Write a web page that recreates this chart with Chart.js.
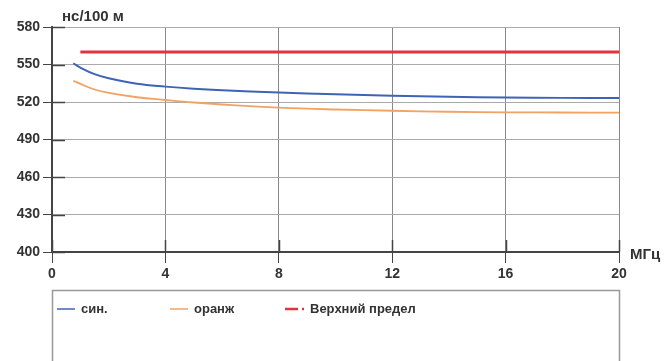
<!DOCTYPE html>
<html>
<head>
<meta charset="utf-8">
<script src="https://cdn.jsdelivr.net/npm/chart.js@4.4.0/dist/chart.umd.min.js"></script>
<style>
  html, body { margin: 0; padding: 0; background: #fff; overflow: hidden; }
  #wrap { width: 672px; height: 361px; position: relative; }
  canvas { display: block; }
</style>
</head>
<body>
<div id="wrap"><canvas id="delay" width="672" height="361"></canvas></div>
<script>
const freq = [0.75, 1, 1.5, 2, 3, 4, 5, 6, 8, 10, 12, 14, 16, 18, 20];
const blueVals = [551, 547.5, 542.3, 539, 534.6, 532.3, 530.6, 529.4, 527.6, 526.2, 525, 524.2, 523.6, 523.3, 523.1];
const orangeVals = [537, 534.5, 530, 527.3, 523.8, 521.6, 519.6, 518, 515.5, 514, 513, 512.2, 511.7, 511.6, 511.5];
const limitFreq = [1, 20];
const limitVals = [560, 560];
const seriesNames = ["син.", "оранж", "Верхний предел"];
const xTicks = [0, 4, 8, 12, 16, 20];
const yTicks = [400, 430, 460, 490, 520, 550, 580];

const font = { family: "'Liberation Sans', Arial, sans-serif", size: 14, weight: "bold" };

function pts(xs, ys) {
  return xs.map((x, i) => ({ x: x, y: ys[i] }));
}

// axis captions, inner tick stubs and the legend frame
const decor = {
  id: "decor",
  afterDraw(chart) {
    const c = chart.ctx;
    const a = chart.chartArea;
    const xs = chart.scales.x, ys = chart.scales.y;
    c.save();
    c.strokeStyle = "#444";
    c.lineWidth = 1.5;
    yTicks.forEach((v) => {
      const y = Math.round(ys.getPixelForValue(v)) + 0.5;
      c.beginPath(); c.moveTo(a.left, y); c.lineTo(a.left + 13, y); c.stroke();
    });
    xTicks.forEach((v) => {
      const x = Math.round(xs.getPixelForValue(v)) + 0.5;
      c.beginPath(); c.moveTo(x, a.bottom); c.lineTo(x, a.bottom - 12); c.stroke();
    });
    c.fillStyle = "#333";
    c.textBaseline = "middle";
    c.textAlign = "left";
    c.font = "bold 15px 'Liberation Sans', Arial, sans-serif";
    c.fillText("нс/100 м", 62, 17);
    c.fillText("МГц", 630, 255);

    // legend frame
    c.strokeStyle = "#999";
    c.lineWidth = 1.5;
    c.strokeRect(a.left + 0.5, 290.5, a.right - a.left, 80);

    c.font = "bold 13px 'Liberation Sans', Arial, sans-serif";
    const legendX = [57, 170, 285];
    chart.data.datasets.forEach((ds, i) => {
      const lx = legendX[i], ly = 309;
      c.strokeStyle = ds.borderColor;
      c.lineWidth = i === 2 ? 2.5 : 1.5;
      c.beginPath();
      if (i === 2) {
        c.moveTo(lx, ly); c.lineTo(lx + 13, ly);
        c.moveTo(lx + 17, ly); c.lineTo(lx + 19, ly);
      } else {
        c.moveTo(lx, ly); c.lineTo(lx + 18, ly);
      }
      c.stroke();
      c.fillStyle = "#333";
      c.fillText(ds.label, lx + (i === 2 ? 25 : 24), ly);
    });
    c.restore();
  }
};

document.addEventListener("DOMContentLoaded", () => {
  const ctx = document.getElementById("delay").getContext("2d");
  new Chart(ctx, {
    type: "line",
    data: {
      datasets: [
        {
          label: seriesNames[0],
          data: pts(freq, blueVals),
          borderColor: "#3f63b4",
          borderWidth: 2,
          pointRadius: 0,
          tension: 0.4,
        },
        {
          label: seriesNames[1],
          data: pts(freq, orangeVals),
          borderColor: "#f2a263",
          borderWidth: 1.8,
          pointRadius: 0,
          tension: 0.4,
        },
        {
          label: seriesNames[2],
          data: pts(limitFreq, limitVals),
          borderColor: "#e2323f",
          borderWidth: 3,
          pointRadius: 0,
        },
      ],
    },
    options: {
      responsive: false,
      animation: false,
      devicePixelRatio: 1,
      layout: { padding: { top: 27, right: 53, left: 0, bottom: 0 } },
      plugins: { legend: { display: false }, tooltip: { enabled: false } },
      scales: {
        x: {
          type: "linear",
          min: 0,
          max: 20,
          afterBuildTicks: (s) => { s.ticks = xTicks.map((v) => ({ value: v })); },
          afterFit: (s) => { s.height = 109; },
          ticks: { font: font, color: "#333", padding: 3 },
          grid: { color: "#888", lineWidth: 1, tickLength: 11, tickColor: "#444" },
          border: { color: "#444", width: 2 },
        },
        y: {
          min: 400,
          max: 580,
          afterBuildTicks: (s) => { s.ticks = yTicks.map((v) => ({ value: v })); },
          afterFit: (s) => { s.width = 52; },
          ticks: { font: font, color: "#333", padding: 3 },
          grid: { color: "#aaa", lineWidth: 1, tickLength: 9, tickColor: "#444" },
          border: { color: "#444", width: 2 },
        },
      },
    },
    plugins: [decor],
  });
});
</script>
</body>
</html>
